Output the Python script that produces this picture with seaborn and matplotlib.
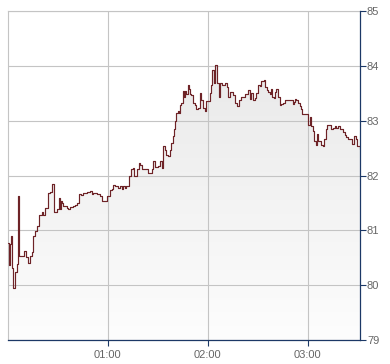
import numpy as np
import pandas as pd
import matplotlib
matplotlib.use("Agg")
import matplotlib.pyplot as plt
from matplotlib.colors import LinearSegmentedColormap
import seaborn as sns

# minutes after 00:00
times = [0.0, 0.6, 1.2, 1.8, 2.2, 3.2, 4.0, 5.2, 5.8, 6.8, 9.6, 10.8, 11.8, 13.2, 14.2,
         15.2, 16.2, 17.2, 18.8, 20.2, 21.2, 22.2, 24.2, 25.2, 26.2, 27.8, 29.6, 30.4,
         31.0, 31.8, 32.6, 33.2, 35.2, 36.2, 37.2, 39.2, 40.2, 41.6, 42.6, 44.0, 45.2,
         47.2, 49.2, 50.2, 51.2, 53.2, 55.2, 56.2, 59.2, 59.6, 61.2, 62.2, 63.2, 64.2,
         65.2, 66.2, 67.2, 68.2, 69.2, 70.2, 71.2, 72.8, 74.2, 75.2, 75.8, 77.8, 78.6,
         79.6, 80.6, 82.6, 84.2, 86.6, 87.2, 88.2, 90.2, 91.2, 92.6, 93.4, 94.2, 95.2,
         96.2, 97.2, 98.2, 99.2, 99.8, 100.6, 101.2, 102.2, 102.8, 103.2, 104.2, 105.2,
         105.8, 106.2, 107.2, 108.2, 108.8, 109.2, 110.2, 111.2, 112.2, 113.2, 114.2,
         115.2, 116.2, 117.2, 118.2, 118.8, 120.2, 121.2, 121.8, 122.8, 123.6, 124.2,
         125.2, 125.8, 126.8, 127.6, 128.8, 130.2, 131.6, 132.2, 133.2, 134.2, 135.2,
         136.2, 137.8, 138.8, 140.2, 142.2, 144.2, 145.2, 146.2, 147.2, 148.2, 149.2,
         150.2, 151.2, 152.2, 153.6, 154.4, 155.6, 156.4, 157.2, 158.2, 158.8, 159.6,
         160.2, 161.2, 162.2, 163.2, 164.2, 165.2, 166.2, 170.2, 171.2, 171.8, 172.2,
         173.2, 174.2, 175.2, 176.2, 176.8, 178.2, 179.2, 180.2, 181.2, 181.8, 182.2,
         183.2, 183.6, 184.8, 185.6, 186.2, 187.2, 188.2, 189.2, 189.8, 190.8, 191.6,
         193.2, 194.2, 195.2, 196.2, 197.2, 198.2, 199.2, 200.2, 201.2, 202.2, 203.2,
         204.2, 205.2, 206.2, 206.8, 207.6, 208.8, 209.6, 210.4, 211.2]

prices = [80.77, 80.37, 80.75, 80.90, 80.31, 79.95, 80.24, 80.39, 81.63, 80.53, 80.62,
          80.51, 80.40, 80.53, 80.61, 80.90, 80.99, 81.08, 81.28, 81.33, 81.28, 81.41,
          81.68, 81.70, 81.85, 81.33, 81.38, 81.59, 81.38, 81.53, 81.50, 81.45, 81.41,
          81.38, 81.43, 81.45, 81.46, 81.50, 81.66, 81.64, 81.68, 81.70, 81.71, 81.66,
          81.68, 81.66, 81.63, 81.54, 81.54, 81.63, 81.74, 81.75, 81.82, 81.80, 81.81,
          81.78, 81.80, 81.76, 81.80, 81.78, 81.80, 82.00, 82.12, 82.14, 82.00, 82.12,
          82.23, 82.20, 82.12, 82.11, 82.04, 82.12, 82.26, 82.16, 82.18, 82.26, 82.14,
          82.53, 82.47, 82.38, 82.36, 82.46, 82.60, 82.72, 82.84, 82.99, 83.14, 83.17,
          83.14, 83.29, 83.32, 83.55, 83.44, 83.55, 83.49, 83.65, 83.57, 83.49, 83.47,
          83.32, 83.29, 83.21, 83.23, 83.50, 83.37, 83.23, 83.17, 83.35, 83.35, 83.50,
          83.65, 83.93, 83.68, 84.02, 84.02, 83.68, 83.44, 83.68, 83.65, 83.68, 83.62,
          83.44, 83.53, 83.53, 83.46, 83.32, 83.27, 83.38, 83.44, 83.49, 83.56, 83.40,
          83.50, 83.38, 83.41, 83.50, 83.65, 83.64, 83.73, 83.74, 83.62, 83.56, 83.53,
          83.48, 83.58, 83.44, 83.42, 83.53, 83.58, 83.44, 83.28, 83.30, 83.32, 83.38,
          83.38, 83.30, 83.34, 83.39, 83.38, 83.33, 83.27, 83.21, 83.13, 83.13, 83.12,
          82.93, 83.07, 82.99, 82.90, 82.81, 82.63, 82.55, 82.75, 82.63, 82.63, 82.55,
          82.54, 82.66, 82.84, 82.93, 82.93, 82.84, 82.87, 82.90, 82.87, 82.91, 82.84,
          82.84, 82.79, 82.73, 82.71, 82.66, 82.66, 82.67, 82.57, 82.72, 82.66, 82.54,
          82.53, 82.49]

x_ticks = [60, 120, 180]
x_labels = ["01:00", "02:00", "03:00"]
y_ticks = [79, 80, 81, 82, 83, 84, 85]

df = pd.DataFrame({"t": times, "p": prices})

sns.set_style("white")
plt.rcParams["font.family"] = ["Liberation Sans", "DejaVu Sans"]

fig = plt.figure(figsize=(3.9, 3.64), dpi=100)
ax = fig.add_axes([8 / 390, 24 / 364, 352 / 390, 329 / 364])

XMAX = 211.5
ax.set_xlim(0, XMAX)
ax.set_ylim(79, 85)

# gradient area under the step line
poly = ax.fill_between(df["t"], df["p"], 79, step="post", facecolor="none",
                       edgecolor="none", zorder=1)
cmap = LinearSegmentedColormap.from_list("g", ["#fdfdfd", "#e9e9e9"])
grad = np.linspace(0, 1, 256).reshape(-1, 1)
im = ax.imshow(grad, extent=[0, XMAX, 79, 84.1], origin="lower", aspect="auto",
               cmap=cmap, zorder=1)
im.set_clip_path(poly.get_paths()[0], transform=ax.transData)
ax.set_xlim(0, XMAX)
ax.set_ylim(79, 85)

sns.lineplot(data=df, x="t", y="p", ax=ax, drawstyle="steps-post",
             color="#6e2327", linewidth=0.85, zorder=3, estimator=None)

ax.set_axisbelow(False)
ax.grid(True, color="#c4c4c4", linewidth=0.8, zorder=2)

ax.set_xticks(x_ticks)
ax.set_xticklabels(x_labels)
ax.set_yticks(y_ticks)
ax.yaxis.tick_right()
ax.yaxis.set_label_position("right")
ax.set_xlabel("")
ax.set_ylabel("")

navy = "#1c3866"
ax.tick_params(axis="x", direction="out", length=4, width=0.8, color=navy,
               labelsize=8, labelcolor="#666666", pad=3, bottom=True)
ax.tick_params(axis="y", direction="out", length=4, width=0.8, color=navy,
               labelsize=8, labelcolor="#666666", pad=1, right=True, left=False)

for side in ["left", "top"]:
    ax.spines[side].set_color("#c4c4c4")
    ax.spines[side].set_linewidth(0.8)
    ax.spines[side].set_visible(True)
for side in ["right", "bottom"]:
    ax.spines[side].set_color(navy)
    ax.spines[side].set_linewidth(0.9)
    ax.spines[side].set_visible(True)
    ax.spines[side].set_zorder(4)

fig.savefig("out.png", dpi=100)
